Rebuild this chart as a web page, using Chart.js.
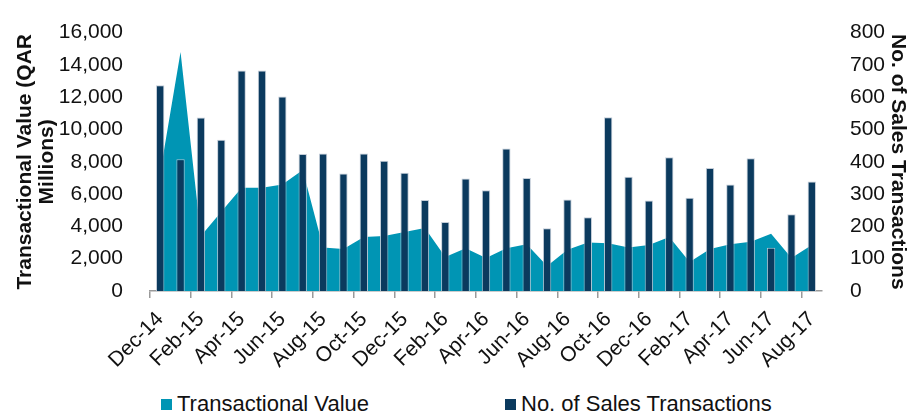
<!DOCTYPE html>
<html>
<head>
<meta charset="utf-8">
<script src="https://cdn.jsdelivr.net/npm/chart.js@4.4.0/dist/chart.umd.min.js"></script>
<style>
body{margin:0;background:#fff;font-family:"Liberation Sans",Arial,sans-serif}
#wrap{position:relative;width:922px;height:416px}
#legend{position:absolute;left:0;top:391px;width:922px;height:26px;font-size:22px;color:#111}
.item{position:absolute;top:0;white-space:nowrap;line-height:26px}
.box{display:inline-block;width:11px;height:11px;margin-right:5px;vertical-align:1px}
</style>
</head>
<body>
<div id="wrap">
<canvas id="chart" width="922" height="376"></canvas>
<div id="legend">
<div class="item" style="left:161px"><span class="box" style="background:#0095B4"></span>Transactional Value</div>
<div class="item" style="left:505px"><span class="box" style="background:#0B3A5E"></span>No. of Sales Transactions</div>
</div>
</div>
<script>
// DATA

const months=["Dec-14","Jan-15","Feb-15","Mar-15","Apr-15","May-15","Jun-15","Jul-15","Aug-15","Sep-15","Oct-15","Nov-15",
"Dec-15","Jan-16","Feb-16","Mar-16","Apr-16","May-16","Jun-16","Jul-16","Aug-16","Sep-16","Oct-16","Nov-16",
"Dec-16","Jan-17","Feb-17","Mar-17","Apr-17","May-17","Jun-17","Jul-17","Aug-17"]

const transValue=[7300,14800,3400,4900,6400,6400,6600,7500,2700,2600,3350,3400,
3650,3900,2100,2650,2050,2650,2900,1550,2550,3000,2950,2700,
2850,3350,1800,2600,2900,3050,3550,2050,2850]

const salesCount=[637,408,537,468,683,683,602,424,426,364,426,403,
366,282,214,348,312,441,350,194,283,228,538,354,
280,414,289,381,330,411,134,238,339]

const leftTicks=[0,2000,4000,6000,8000,10000,12000,14000,16000]
const rightTicks=[0,100,200,300,400,500,600,700,800]

const tickFont={family:"Liberation Sans",size:21}
const titleFont={family:"Liberation Sans",size:21,weight:"bold",lineHeight:1.05}

new Chart(document.getElementById("chart"),{
type:"bar",
data:{
labels:months,
datasets:[
{
type:"bar",
label:"No. of Sales Transactions",
data:salesCount,
yAxisID:"y2",
backgroundColor:"#0B3A5E",
borderColor:"rgba(190,200,212,0.9)",
borderWidth:1,
barPercentage:0.41,
categoryPercentage:1,
order:0
},
{
type:"line",
label:"Transactional Value",
data:transValue,
yAxisID:"y",
backgroundColor:"#0095B4",
borderWidth:0,
pointRadius:0,
fill:"origin",
tension:0,
order:1
}
]
},
options:{
responsive:false,
animation:false,
layout:{padding:{top:23,bottom:0,left:0,right:0}},
plugins:{legend:{display:false},tooltip:{enabled:false}},
scales:{
x:{
offset:true,
grid:{
display:true,
drawOnChartArea:false,
tickLength:7,
offset:true,
color:(c)=>c.index%2===0?"#9a9a9a":"rgba(0,0,0,0)",
lineWidth:1.5
},
border:{display:true,color:"#9a9a9a",width:1.5},
ticks:{
autoSkip:false,
maxRotation:45,
minRotation:45,
padding:9,
color:"#111",
font:tickFont,
callback:function(v,i){return i%2===0?months[i]:""}
},
afterFit:(s)=>{s.height=85}
},
y:{
position:"left",
min:0,
max:16000,
grid:{display:false},
border:{display:false},
afterBuildTicks:(s)=>{s.ticks=leftTicks.map(v=>({value:v}))},
ticks:{
padding:19,
color:"#111",
font:tickFont,
callback:(v)=>v.toLocaleString("en-US")
},
title:{
display:true,
text:["Transactional Value (QAR","Millions)"],
color:"#111",
font:titleFont,
padding:{top:14,bottom:0}
},
afterFit:(s)=>{s.width=150}
},
y2:{
position:"right",
min:0,
max:800,
grid:{display:false},
border:{display:false},
afterBuildTicks:(s)=>{s.ticks=rightTicks.map(v=>({value:v}))},
ticks:{
padding:20,
color:"#111",
font:tickFont
},
title:{
display:true,
text:"No. of Sales Transactions",
color:"#111",
font:titleFont,
padding:{top:13,bottom:0}
},
afterFit:(s)=>{s.width=100}
}
}
}
})
</script>
</body>
</html>
